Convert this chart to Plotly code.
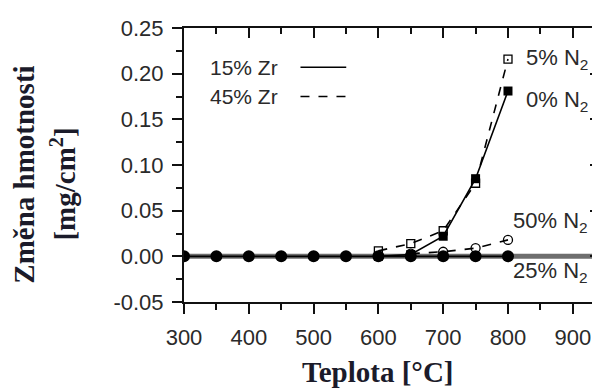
import plotly.graph_objects as go

# Data
temp_25 = [300, 350, 400, 450, 500, 550, 600, 650, 700, 750, 800]
mass_25 = [0, 0, 0, 0, 0, 0, 0, 0, 0, 0, 0]

temp_0 = [600, 650, 700, 750, 800]
mass_0 = [0.0, 0.002, 0.022, 0.085, 0.181]

temp_5 = [600, 650, 700, 750, 800]
mass_5 = [0.006, 0.014, 0.028, 0.080, 0.216]

temp_50 = [650, 700, 750, 800]
mass_50 = [0.003, 0.005, 0.009, 0.018]

y_tickvals = [-0.05, 0.0, 0.05, 0.10, 0.15, 0.20, 0.25]
y_ticktext = ["-0.05", "0.00", "0.05", "0.10", "0.15", "0.20", "0.25"]

x_range = [300, 942]
y_range = [-0.05, 0.25]

tick_font = dict(family="Liberation Sans, Arial, sans-serif", size=22, color="#2a2a2a")
label_font = dict(family="Liberation Sans, Arial, sans-serif", size=22, color="#2a2a2a")
legend_font = dict(family="Liberation Sans, Arial, sans-serif", size=21, color="#2a2a2a")
title_font = dict(family="Liberation Serif, Times New Roman, serif", size=29, color="#1b1b2a")

fig = go.Figure()

# zero reference line (thick gray)
fig.add_trace(go.Scatter(x=x_range, y=[0, 0], mode="lines",
                         line=dict(color="#6e6e6e", width=5), hoverinfo="skip", showlegend=False))

fig.add_trace(go.Scatter(x=temp_0, y=mass_0, mode="lines+markers",
                         line=dict(color="black", width=1.6),
                         marker=dict(symbol="square", size=9, color="black"), showlegend=False))
fig.add_trace(go.Scatter(x=temp_5, y=mass_5, mode="lines+markers",
                         line=dict(color="black", width=1.6, dash="dash"),
                         marker=dict(symbol="square-open", size=8, color="black", line=dict(width=1.3)),
                         showlegend=False))
fig.add_trace(go.Scatter(x=temp_50, y=mass_50, mode="lines+markers",
                         line=dict(color="black", width=1.6, dash="dash"),
                         marker=dict(symbol="circle-open", size=9, color="black", line=dict(width=1.3)),
                         showlegend=False))
fig.add_trace(go.Scatter(x=temp_25, y=mass_25, mode="lines+markers",
                         line=dict(color="black", width=1.6),
                         marker=dict(symbol="circle", size=12, color="black"), showlegend=False))

# dummy trace for mirrored axes
fig.add_trace(go.Scatter(x=x_range, y=y_range, xaxis="x2", yaxis="y2", mode="markers",
                         marker=dict(opacity=0), hoverinfo="skip", showlegend=False))

axis_common = dict(showgrid=False, zeroline=False, linecolor="#111", linewidth=2,
                   tickcolor="#111", tickwidth=2, ticklen=10)

fig.update_layout(
    width=600, height=391,
    margin=dict(l=176, r=8, t=13, b=97),
    paper_bgcolor="white", plot_bgcolor="white",
    xaxis=dict(range=x_range, dtick=100, tick0=300, ticks="outside", showline=True,
               tickfont=tick_font, ticklabelstandoff=5,
               minor=dict(dtick=50, tick0=300, ticks="outside", ticklen=6, tickwidth=2, tickcolor="#111"),
               **axis_common),
    xaxis2=dict(range=x_range, overlaying="x", side="top", dtick=100, tick0=300, ticks="inside",
                showline=True, showticklabels=False,
                minor=dict(dtick=50, tick0=300, ticks="inside", ticklen=6, tickwidth=2, tickcolor="#111"),
                **axis_common),
    yaxis=dict(range=y_range, tickmode="array", tickvals=y_tickvals, ticktext=y_ticktext,
               ticks="outside", showline=True, tickfont=tick_font, ticklabelstandoff=4,
               minor=dict(dtick=0.025, tick0=0, ticks="outside", ticklen=6, tickwidth=2, tickcolor="#111"),
               **axis_common),
    yaxis2=dict(range=y_range, overlaying="y", side="right", dtick=0.05, tick0=0, ticks="inside",
                showline=False, showticklabels=False,
                minor=dict(dtick=0.025, tick0=0, ticks="inside", ticklen=6, tickwidth=2, tickcolor="#111"),
                **axis_common),
)

# series labels
for txt, xv, yv in [("5% N<sub>2</sub>", 824, 0.216), ("0% N<sub>2</sub>", 824, 0.170),
                    ("50% N<sub>2</sub>", 804, 0.038), ("25% N<sub>2</sub>", 804, -0.017)]:
    fig.add_annotation(x=xv, y=yv, text=txt, showarrow=False, xanchor="left", yanchor="middle",
                       font=label_font)

# legend (Zr content)
fig.add_annotation(x=0.058, y=0.857, xref="paper", yref="paper", text="15% Zr", showarrow=False,
                   xanchor="left", yanchor="middle", font=legend_font)
fig.add_annotation(x=0.058, y=0.75, xref="paper", yref="paper", text="45% Zr", showarrow=False,
                   xanchor="left", yanchor="middle", font=legend_font)
fig.add_shape(type="line", xref="paper", yref="paper", x0=0.28, x1=0.39, y0=0.857, y1=0.857,
              line=dict(color="black", width=1.6))
fig.add_shape(type="line", xref="paper", yref="paper", x0=0.28, x1=0.39, y0=0.75, y1=0.75,
              line=dict(color="black", width=1.6, dash="dash"))

# axis titles
fig.add_annotation(x=0.466, y=-0.255, xref="paper", yref="paper", text="<b>Teplota [°C]</b>",
                   showarrow=False, xanchor="center", yanchor="middle", font=title_font)
fig.add_annotation(x=-0.385, y=0.464, xref="paper", yref="paper", text="<b>Změna hmotnosti</b>",
                   showarrow=False, xanchor="center", yanchor="middle", textangle=-90, font=title_font)
fig.add_annotation(x=-0.29, y=0.43, xref="paper", yref="paper", text="<b>[mg/cm<sup>2</sup>]</b>",
                   showarrow=False, xanchor="center", yanchor="middle", textangle=-90, font=title_font)

fig.write_html("out.html")
